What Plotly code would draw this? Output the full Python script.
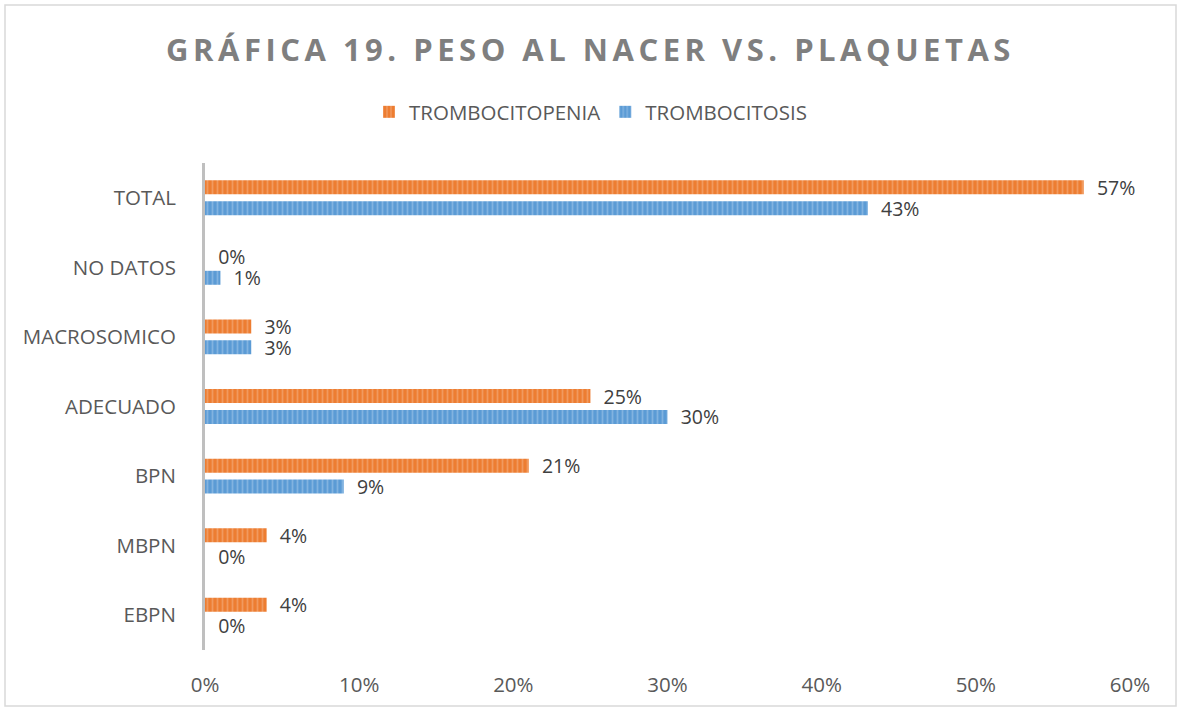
import plotly.graph_objects as go

categories = ["EBPN", "MBPN", "BPN", "ADECUADO", "MACROSOMICO", "NO DATOS", "TOTAL"]
trombocitopenia = [0.04, 0.04, 0.21, 0.25, 0.03, 0.00, 0.57]
trombocitosis = [0.00, 0.00, 0.09, 0.30, 0.03, 0.01, 0.43]
x_ticks = [0, 0.1, 0.2, 0.3, 0.4, 0.5, 0.6]
x_ticklabels = ["0%", "10%", "20%", "30%", "40%", "50%", "60%"]

FONT = "Open Sans"
TXT = "#595959"
FS = 20.5

fig = go.Figure()
fig.add_trace(go.Bar(
    y=categories, x=trombocitosis, orientation="h", name="TROMBOCITOSIS",
    marker=dict(color="#5B9BD5", line=dict(width=0),
                pattern=dict(shape="|", fgcolor="#A9CBEB", size=5, solidity=0.35)),
    texttemplate="\u00a0\u00a0%{x:.0%}", textposition="outside", constraintext="none",
    textfont=dict(family=FONT, size=19.5, color="#404040"),
    cliponaxis=False, legendrank=2,
))
fig.add_trace(go.Bar(
    y=categories, x=trombocitopenia, orientation="h", name="TROMBOCITOPENIA",
    marker=dict(color="#ED7D31", line=dict(width=0),
                pattern=dict(shape="|", fgcolor="#F6B88E", size=5, solidity=0.35)),
    texttemplate="\u00a0\u00a0%{x:.0%}", textposition="outside", constraintext="none",
    textfont=dict(family=FONT, size=19.5, color="#404040"),
    cliponaxis=False, legendrank=1,
))

fig.update_layout(
    width=1181, height=711,
    margin=dict(l=205, r=51, t=163, b=61),
    paper_bgcolor="white", plot_bgcolor="white",
    barmode="group", bargap=0.4, bargroupgap=0.33,
    font=dict(family=FONT, size=FS, color=TXT),
    title=dict(
        text='<span style="letter-spacing:4.5px"><b>GRÁFICA 19. PESO AL NACER VS. PLAQUETAS</b></span>',
        x=0.5, xref="container", xanchor="center",
        y=1 - 50 / 711, yref="container", yanchor="middle",
        font=dict(family=FONT, size=31, color="#7F7F7F"),
    ),
    legend=dict(
        orientation="h", x=0.5, xref="container", xanchor="center",
        y=1 - 112 / 711, yref="container", yanchor="middle",
        font=dict(family=FONT, size=FS, color=TXT),
        itemwidth=30, traceorder="normal",
    ),
    xaxis=dict(
        range=[0, 0.6], tickvals=x_ticks, ticktext=x_ticklabels,
        showgrid=False, zeroline=False, showline=False,
        ticklabelstandoff=20, tickfont=dict(family=FONT, size=FS, color=TXT),
    ),
    yaxis=dict(
        categoryorder="array", categoryarray=categories,
        showgrid=False, zeroline=False, showline=True,
        linecolor="#BFBFBF", linewidth=3,
        ticklabelstandoff=22, tickfont=dict(family=FONT, size=FS, color=TXT),
    ),
    shapes=[dict(
        type="rect", xref="paper", yref="paper",
        x0=(5 - 205) / 925, x1=(1176 - 205) / 925,
        y0=(650 - 706) / 487, y1=(650 - 5) / 487,
        line=dict(color="#D9D9D9", width=1.5), fillcolor="rgba(0,0,0,0)", layer="below",
    )],
)

fig.write_html("out.html", config={"displayModeBar": False},
               post_script="document.body.style.margin='0';document.body.style.overflow='hidden';")
